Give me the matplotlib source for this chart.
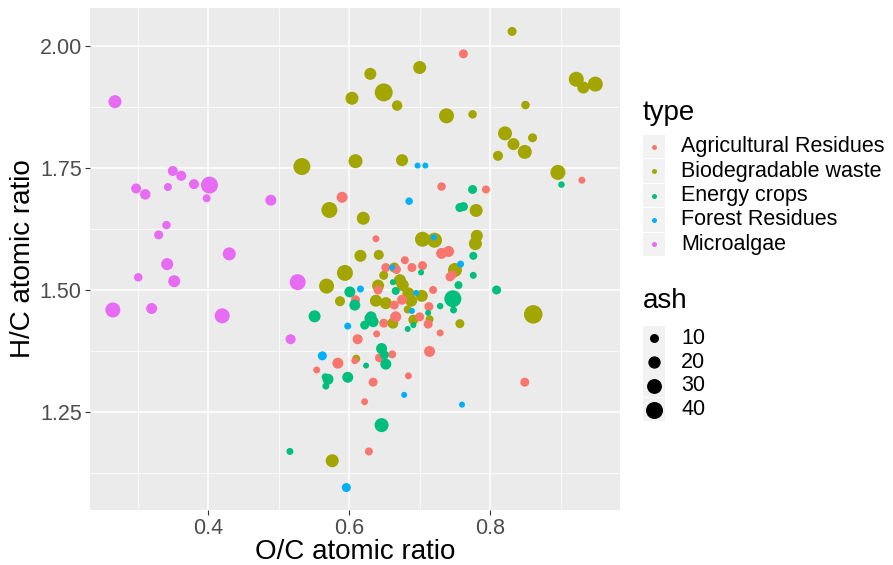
import numpy as np
import matplotlib
matplotlib.use("Agg")
import matplotlib.pyplot as plt
from matplotlib.patches import Rectangle

plt.rcParams['font.family'] = ['Liberation Sans', 'DejaVu Sans']

W, H, DPI = 893, 565, 100

TYPES = ["Agricultural Residues", "Biodegradable waste", "Energy crops",
         "Forest Residues", "Microalgae"]
COLORS = ["#F8766D", "#A3A500", "#00BF7D", "#00B0F6", "#E76BF3"]

# Agricultural Residues
agri_oc = [0.762, 0.590, 0.930, 0.731, 0.794, 0.638, 0.731, 0.741, 0.743, 0.746,
           0.719, 0.729, 0.714, 0.849, 0.652, 0.667, 0.679, 0.689, 0.704, 0.641,
           0.609, 0.664, 0.675, 0.713, 0.700, 0.712, 0.666, 0.649, 0.639, 0.612,
           0.608, 0.584, 0.554, 0.643, 0.661, 0.634, 0.684, 0.622, 0.628]
agri_hc = [1.984, 1.690, 1.725, 1.712, 1.706, 1.605, 1.575, 1.579, 1.527, 1.531,
           1.500, 1.412, 1.374, 1.311, 1.546, 1.542, 1.561, 1.546, 1.550, 1.500,
           1.480, 1.469, 1.480, 1.466, 1.445, 1.430, 1.445, 1.432, 1.410, 1.399,
           1.355, 1.350, 1.336, 1.361, 1.368, 1.311, 1.324, 1.271, 1.169]
agri_ash = [10, 15.6, 5.6, 8.8, 7.7, 5.6, 15.6, 15.6, 10, 10,
            7.7, 5.6, 15.6, 10, 10, 10, 7.7, 10, 10, 10,
            10, 10, 12.7, 10, 10, 10, 15.6, 10, 5.6, 12.7,
            5.6, 15.6, 5.6, 10, 7.7, 10, 5.6, 5.6, 7.7]

# Biodegradable waste
bio_oc = [0.831, 0.630, 0.700, 0.604, 0.649, 0.668, 0.738, 0.775, 0.850, 0.922,
          0.932, 0.949, 0.821, 0.860, 0.833, 0.849, 0.811, 0.533, 0.609, 0.675,
          0.896, 0.572, 0.620, 0.780, 0.704, 0.721, 0.781, 0.779, 0.616, 0.642,
          0.594, 0.568, 0.587, 0.750, 0.757, 0.861, 0.576, 0.610, 0.664, 0.649,
          0.672, 0.641, 0.676, 0.684, 0.703, 0.638, 0.652, 0.688, 0.683, 0.714,
          0.662, 0.691]
bio_hc = [2.030, 1.943, 1.956, 1.893, 1.905, 1.878, 1.857, 1.860, 1.879, 1.932,
          1.915, 1.922, 1.821, 1.812, 1.799, 1.783, 1.775, 1.753, 1.764, 1.766,
          1.741, 1.664, 1.647, 1.663, 1.604, 1.602, 1.611, 1.595, 1.570, 1.572,
          1.535, 1.508, 1.477, 1.541, 1.431, 1.450, 1.150, 1.359, 1.546, 1.530,
          1.520, 1.509, 1.510, 1.493, 1.488, 1.478, 1.473, 1.478, 1.460, 1.440,
          1.432, 1.439]
bio_ash = [10, 19, 22.5, 22.5, 45, 14, 30.6, 8.8, 8.8, 30.6,
           19, 30.6, 26.4, 10, 19, 26.4, 12.7, 40, 26.4, 19,
           30.6, 35, 22.5, 22.5, 30.6, 30.6, 19, 22.5, 19, 12.7,
           35, 30.6, 12.7, 26.4, 10, 48, 22.5, 7.7, 12.7, 10,
           19, 19, 19, 19, 19, 19, 19, 19, 7.7, 7.7,
           15.6, 12.7]

# Energy crops
en_oc = [0.901, 0.775, 0.757, 0.762, 0.776, 0.776, 0.755, 0.809, 0.747, 0.729,
         0.748, 0.702, 0.601, 0.608, 0.551, 0.622, 0.628, 0.631, 0.634, 0.666,
         0.662, 0.712, 0.683, 0.691, 0.624, 0.646, 0.650, 0.652, 0.570, 0.566,
         0.567, 0.598, 0.646, 0.516]
en_hc = [1.716, 1.706, 1.669, 1.671, 1.570, 1.530, 1.510, 1.500, 1.482, 1.467,
         1.459, 1.536, 1.496, 1.469, 1.446, 1.428, 1.442, 1.445, 1.435, 1.498,
         1.516, 1.453, 1.420, 1.428, 1.345, 1.380, 1.367, 1.348, 1.317, 1.322,
         1.303, 1.321, 1.223, 1.169]
en_ash = [4.7, 10, 10, 10, 7.7, 5.6, 7.7, 10, 40, 4.7,
          5.6, 3.9, 15.6, 15.6, 19, 10, 10, 15.6, 15.6, 7.7,
          3.9, 3.9, 3.9, 3.9, 3.9, 15.6, 10, 15.6, 15.6, 5.6,
          5.6, 15.6, 26.4, 5.6]

# Forest Residues
for_oc = [0.697, 0.708, 0.685, 0.720, 0.758, 0.616, 0.661, 0.695, 0.689, 0.598,
          0.562, 0.678, 0.760, 0.596]
for_hc = [1.755, 1.755, 1.682, 1.608, 1.553, 1.502, 1.546, 1.494, 1.457, 1.426,
          1.365, 1.285, 1.265, 1.095]
for_ash = [3.9, 3.9, 6.6, 3.9, 5.6, 5.6, 3.9, 3.9, 3.9, 5.6, 10, 3.9, 3.9, 10]

# Microalgae
alg_oc = [0.268, 0.350, 0.362, 0.298, 0.311, 0.343, 0.380, 0.402, 0.398, 0.489,
          0.341, 0.330, 0.430, 0.342, 0.301, 0.352, 0.527, 0.265, 0.320, 0.420,
          0.517]
alg_hc = [1.886, 1.744, 1.734, 1.708, 1.696, 1.711, 1.717, 1.715, 1.688, 1.684,
          1.633, 1.613, 1.574, 1.553, 1.526, 1.518, 1.516, 1.459, 1.462, 1.447,
          1.399]
alg_ash = [22.5, 12.7, 12.7, 12.7, 14, 7.7, 12.7, 40, 7.7, 15.6,
           8.8, 10, 22.5, 19, 8.8, 19, 35, 30.6, 15.6, 30.6,
           12.7]

ASH_BREAKS = [10, 20, 30, 40]
X_TICKS = [0.4, 0.6, 0.8]
Y_TICKS = [1.25, 1.50, 1.75, 2.00]
Y_TICK_LABELS = ["1.25", "1.50", "1.75", "2.00"]


def ash_to_s(ash):
    # diameter in px grows with sqrt(ash), like ggplot's area scale
    d_px = 1 + 2.53 * np.sqrt(np.asarray(ash, dtype=float))
    return (d_px * 72 / DPI) ** 2


fig = plt.figure(figsize=(W / DPI, H / DPI), dpi=DPI)
fig.patch.set_facecolor("white")

ax = fig.add_axes([90 / W, 1 - 510 / H, 530 / W, 502 / H])
ax.set_facecolor("#EBEBEB")
for s in ax.spines.values():
    s.set_visible(False)

ax.set_xlim(0.2326, 0.984)
ax.set_ylim(1.049, 2.078)
ax.set_xticks(X_TICKS)
ax.set_xticklabels([str(t) for t in X_TICKS])
ax.set_yticks(Y_TICKS)
ax.set_yticklabels(Y_TICK_LABELS)
ax.set_xticks([0.3, 0.5, 0.7, 0.9], minor=True)
ax.set_yticks([1.125, 1.375, 1.625, 1.875], minor=True)
ax.grid(which="major", color="white", linewidth=1.1)
ax.grid(which="minor", color="white", linewidth=0.55)
ax.set_axisbelow(True)
ax.tick_params(which="major", length=3.5, width=0.8, color="#333333",
               labelsize=15.5, labelcolor="#4D4D4D", pad=2.5)
ax.tick_params(which="minor", length=0)

groups = [
    (bio_oc, bio_hc, bio_ash, COLORS[1]),
    (agri_oc, agri_hc, agri_ash, COLORS[0]),
    (en_oc, en_hc, en_ash, COLORS[2]),
    (for_oc, for_hc, for_ash, COLORS[3]),
    (alg_oc, alg_hc, alg_ash, COLORS[4]),
]
for oc, hc, ash, col in groups:
    ax.scatter(oc, hc, s=ash_to_s(ash), c=col, linewidths=0, zorder=3)

ax.set_xlabel("O/C atomic ratio", fontsize=20, color="black",
              va="center", ha="center")
ax.xaxis.set_label_coords(0.5, (510 - 552) / 502)
ax.set_ylabel("H/C atomic ratio", fontsize=20, color="black",
              va="center", ha="center")
ax.yaxis.set_label_coords((23 - 90) / 530, 0.5)

# legends drawn in pixel space
lax = fig.add_axes([0, 0, 1, 1])
lax.set_xlim(0, W)
lax.set_ylim(H, 0)
lax.axis("off")
lax.patch.set_alpha(0)

lax.text(643, 113, "type", fontsize=20, va="center", ha="left")
row_h = 24.4
y0 = 146.7
for i, (name, col) in enumerate(zip(TYPES, COLORS)):
    yc = y0 + i * row_h
    lax.add_patch(Rectangle((643, yc - row_h / 2 + 0.5), 22, row_h - 1,
                            facecolor="#F2F2F2", edgecolor="none"))
    lax.scatter([654], [yc], s=(5 * 72 / DPI) ** 2, c=col, linewidths=0)
    lax.text(681, yc, name, fontsize=15.5, va="center", ha="left")

lax.text(643, 301, "ash", fontsize=20, va="center", ha="left")
size_rows = [338, 362, 385.5, 409.5]
for yc, b in zip(size_rows, ASH_BREAKS):
    lax.add_patch(Rectangle((643, yc - 12), 22, 23.5,
                            facecolor="#F2F2F2", edgecolor="none"))
    lax.scatter([654], [yc], s=ash_to_s([b]), c="black", linewidths=0)
    lax.text(681, yc, str(b), fontsize=15.5, va="center", ha="left")

fig.savefig("out.png", dpi=DPI)
